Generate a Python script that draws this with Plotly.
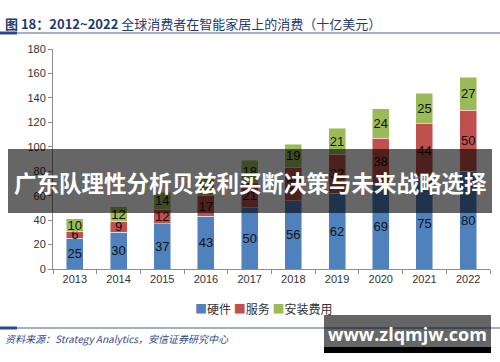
import plotly.graph_objects as go

years = ["2013", "2014", "2015", "2016", "2017", "2018", "2019", "2020", "2021", "2022"]
hardware = [25, 30, 37, 43, 50, 56, 62, 69, 75, 80]
service = [6, 9, 12, 17, 21, 27, 32, 38, 44, 50]
install = [10, 12, 14, 16, 18, 19, 21, 24, 25, 27]
series_names = ["硬件", "服务", "安装费用"]
colors = ["#4F81BD", "#C0504D", "#9BBB59"]
y_ticks = list(range(0, 181, 20))

W, H = 500, 362
L, R, T, B = 53, 10, 49, 93
pw, ph = W - L - R, H - T - B


def px(x):
    return (x - L) / pw


def py(y):
    return (H - B - y) / ph


fig = go.Figure()
for name, vals, col in zip(series_names, [hardware, service, install], colors):
    fig.add_trace(go.Bar(
        x=years, y=vals, name=name, showlegend=False,
        marker=dict(color=col, line=dict(color="rgba(255,255,255,0.6)", width=0.8)),
        text=vals, textposition="inside", insidetextanchor="middle", textangle=0,
        constraintext="none",
        textfont=dict(family="Liberation Sans, Arial", size=13, color="#111111"),
    ))

CJK = "Noto Sans CJK SC"
fig.update_layout(
    width=W, height=H, barmode="stack", bargap=0.61,
    margin=dict(l=L, r=R, t=T, b=B, autoexpand=False),
    paper_bgcolor="white", plot_bgcolor="white",
    uniformtext=dict(minsize=13, mode="show"),
    font=dict(family="Liberation Sans, Arial", size=11, color="#333333"),
    xaxis=dict(
        type="category", range=[-0.5, 9.5], showline=True, linecolor="#8c8c8c", linewidth=1,
        ticks="outside", tickson="boundaries", ticklen=4, tickcolor="#8c8c8c",
        tickfont=dict(size=11, color="#333333"), showgrid=False, zeroline=False,
        automargin=False,
    ),
    yaxis=dict(
        range=[0, 180], tickvals=y_ticks, showline=True, linecolor="#8c8c8c", linewidth=1,
        ticks="outside", ticklen=4, tickcolor="#8c8c8c", showgrid=False, zeroline=False,
        tickfont=dict(size=11, color="#333333"), automargin=False,
    ),
    showlegend=False,
)

shapes = [
    # title rule
    dict(type="line", xref="paper", yref="paper", x0=px(0), x1=px(500), y0=py(33), y1=py(33),
         line=dict(color="#4a5f8a", width=1)),
    dict(type="line", xref="paper", yref="paper", x0=px(0), x1=px(17), y0=py(33), y1=py(33),
         line=dict(color="#2a4a8a", width=3)),
    # source rule
    dict(type="line", xref="paper", yref="paper", x0=px(0), x1=px(500), y0=py(328), y1=py(328),
         line=dict(color="#4a5f8a", width=1)),
    dict(type="line", xref="paper", yref="paper", x0=px(0), x1=px(17), y0=py(328), y1=py(328),
         line=dict(color="#2a4a8a", width=3)),
    # banner overlay
    dict(type="rect", xref="paper", yref="paper", x0=px(8), x1=px(492), y0=py(213), y1=py(149),
         fillcolor="rgba(0,0,0,0.6)", line=dict(width=0), layer="above"),
    # watermark box
    dict(type="rect", xref="paper", yref="paper", x0=px(324), x1=px(491), y0=py(353), y1=py(315),
         fillcolor="rgba(0,0,0,0.6)", line=dict(width=0), layer="above"),
    dict(type="rect", xref="paper", yref="paper", x0=px(324), x1=px(491), y0=py(353), y1=py(347),
         fillcolor="#000000", line=dict(width=0), layer="above"),
]
fig.update_layout(shapes=shapes)

legend_text = "&nbsp;".join(
    f"<span style='color:{c}'>■</span>{n}" for n, c in zip(series_names, colors)
)

annotations = [
    dict(text="<b>图 18：2012~2022</b> 全球消费者在智能家居上的消费（十亿美元）",
         xref="paper", yref="paper", x=px(3), y=py(23), xanchor="left", yanchor="middle",
         showarrow=False, font=dict(family=CJK, size=13, color="#1F3A6E")),
    dict(text=legend_text,
         xref="paper", yref="paper", x=px(263), y=py(308), xanchor="center", yanchor="middle",
         showarrow=False, font=dict(family=CJK, size=12, color="#333333")),
    dict(text="<i>资料来源：Strategy Analytics，安信证券研究中心</i>",
         xref="paper", yref="paper", x=px(3), y=py(338), xanchor="left", yanchor="middle",
         showarrow=False, font=dict(family=CJK, size=10, color="#2F4A8A")),
    dict(text="<b>广东队理性分析贝兹利买断决策与未来战略选择</b>",
         xref="paper", yref="paper", x=px(250), y=py(182), xanchor="center", yanchor="middle",
         showarrow=False, font=dict(family=CJK, size=22.5, color="white")),
    dict(text="<b>www.zlqmjw.com</b>",
         xref="paper", yref="paper", x=px(407), y=py(334), xanchor="center", yanchor="middle",
         showarrow=False, font=dict(family="Open Sans, DejaVu Sans", size=18, color="white")),
]
fig.update_layout(annotations=annotations)

fig.write_html("out.html", config={"displayModeBar": False},
               post_script="document.body.style.margin='0';")
